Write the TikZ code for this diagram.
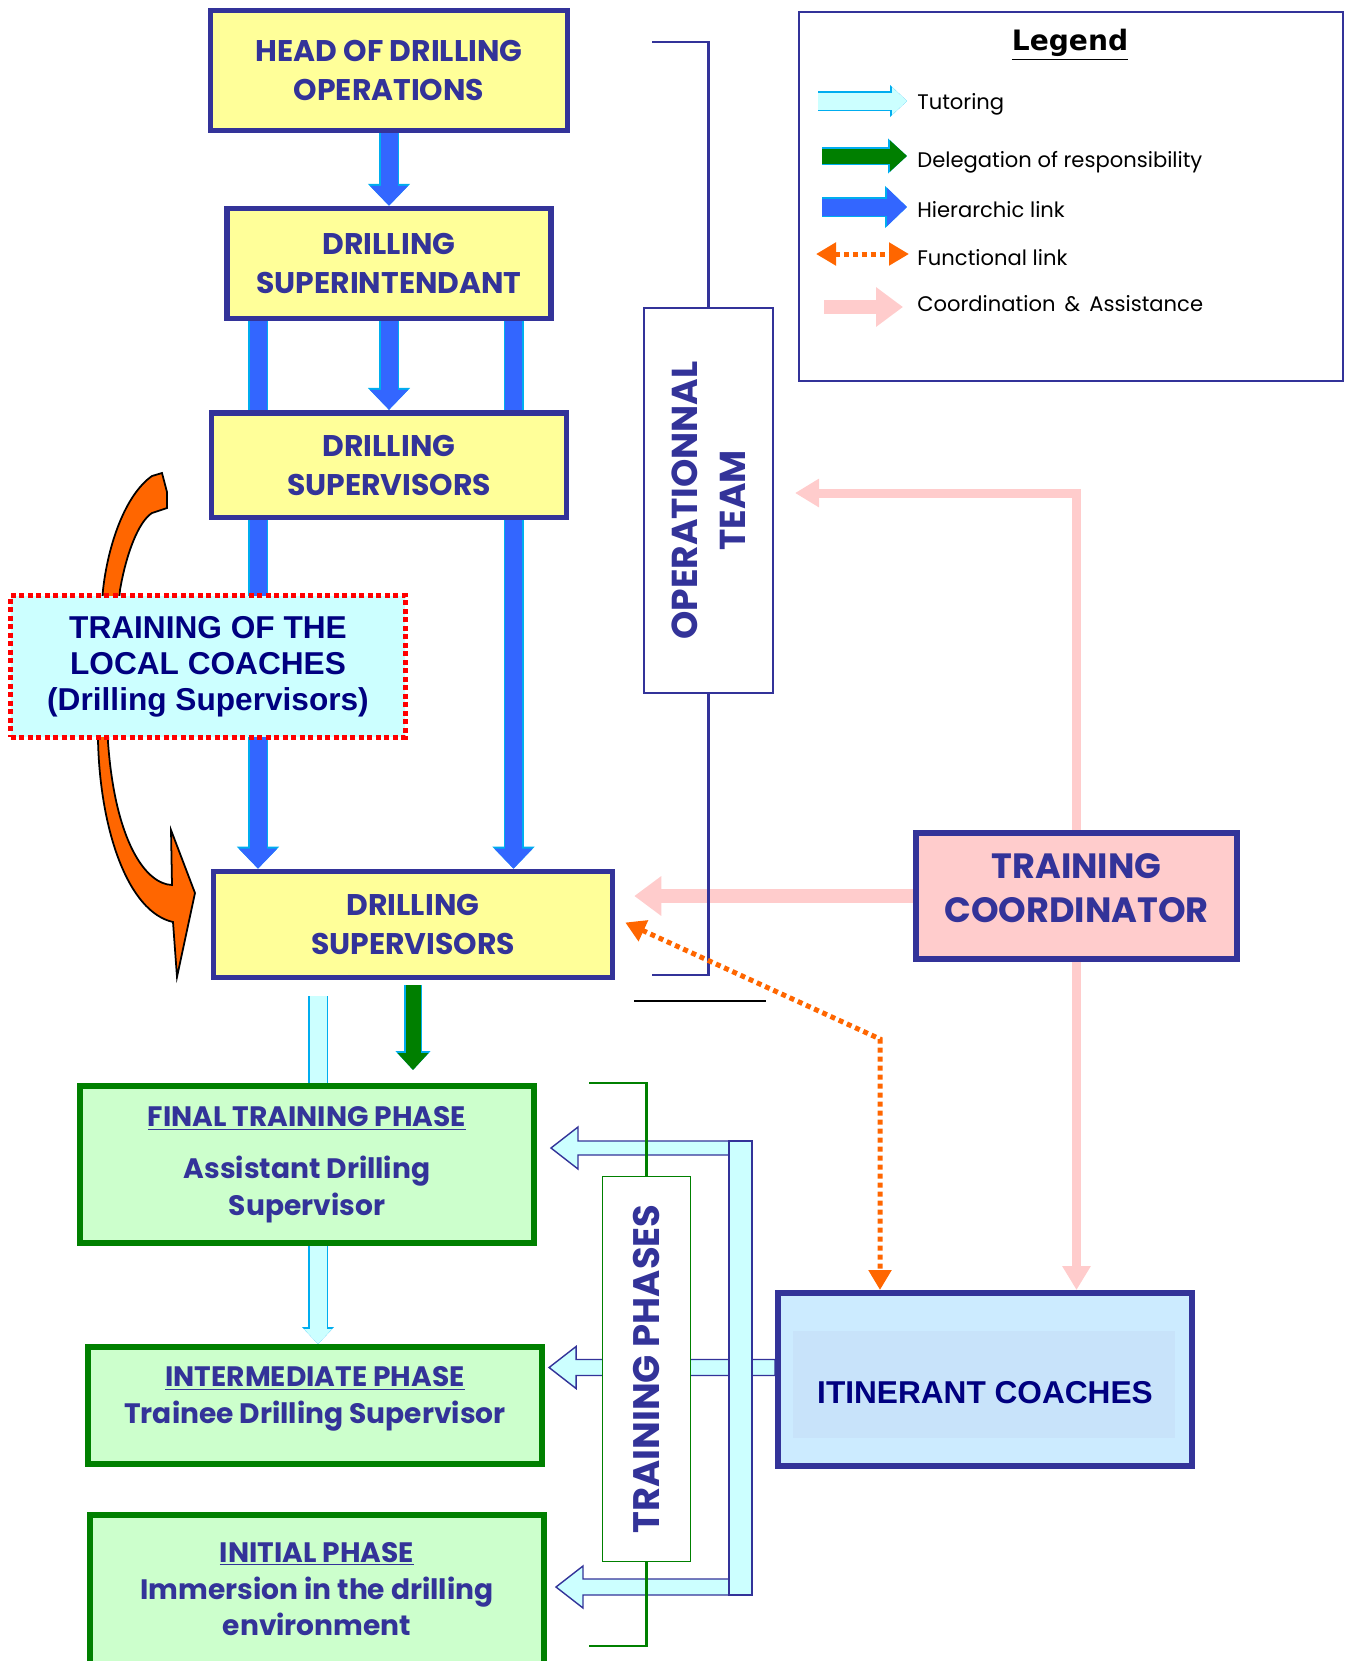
\documentclass[tikz,border=0pt]{standalone}
\usepackage{fontspec}
\setmainfont{Poppins}
\newfontfamily\arialfont{Liberation Sans}
\newfontfamily\verdfont{DejaVu Sans}
\usetikzlibrary{arrows.meta, backgrounds, calc, positioning}

\definecolor{boxblue}{HTML}{333399}
\definecolor{navy}{HTML}{000080}
\definecolor{boxyellow}{HTML}{FFFF99}
\definecolor{hierblue}{HTML}{3366FF}
\definecolor{delegreen}{HTML}{007F00}
\definecolor{tutorfill}{HTML}{CCFFFF}
\definecolor{coordpink}{HTML}{FFCCCC}
\definecolor{funcorange}{HTML}{FF6600}
\definecolor{phasegreen}{HTML}{CCFFCC}
\definecolor{phaseline}{HTML}{008000}
\definecolor{itinfill}{HTML}{CCEBFF}
\definecolor{itininner}{HTML}{C8E3FA}

\tikzset{
  ybox/.style={draw=boxblue, fill=boxyellow, line width=3.2pt, text=boxblue, align=center, font=\fontsize{17}{22}\selectfont\bfseries},
  gbox/.style={draw=phaseline, fill=phasegreen, line width=3.4pt, text=boxblue, align=center, minimum width=9.08cm, font=\fontsize{16}{21}\selectfont\bfseries},
  thinbox/.style={draw=#1, fill=white, line width=1pt},
  rottext/.style={rotate=90, text=boxblue, align=center, font=\fontsize{20.5}{27}\selectfont\bfseries},
  legtext/.style={anchor=west, inner sep=0pt, font=\fontsize{12}{14}\selectfont},
  % block arrows of the chart
  hier/.style={draw=hierblue, line width=0.34cm, -{Triangle[width=0.74cm,length=0.4cm]},
    preaction={draw=cyan, line width=0.4cm, -{Triangle[width=0.82cm,length=0.44cm]}}},
  deleg/.style={draw=delegreen, line width=0.3cm, -{Triangle[width=0.6cm,length=0.34cm]},
    preaction={draw=cyan, line width=0.36cm, -{Triangle[width=0.68cm,length=0.38cm]}}},
  tutor/.style={draw=tutorfill, line width=0.34cm, -{Triangle[width=0.54cm,length=0.3cm]},
    preaction={draw=cyan, line width=0.4cm, -{Triangle[width=0.62cm,length=0.34cm]}}},
  tutorshaft/.style={draw=tutorfill, line width=0.34cm, preaction={draw=cyan, line width=0.4cm}},
  coordthin/.style={draw=coordpink, line width=0.18cm, -{Triangle[width=0.54cm,length=0.48cm]}},
  coordwide/.style={draw=coordpink, line width=0.28cm, -{Triangle[width=0.76cm,length=0.54cm]}},
  func/.style={draw=funcorange, line width=0.1cm, dash pattern=on 0.1cm off 0.08cm,
    {Triangle[width=0.44cm,length=0.4cm]}-{Triangle[width=0.44cm,length=0.4cm]}},
  block/.style={fill=tutorfill, draw=boxblue, line width=0.8pt},
  optline/.style={draw=boxblue, line width=1.6pt},
  phline/.style={draw=phaseline, line width=1.6pt},
  curvearrow/.style={fill=funcorange, draw=black, line width=1pt},
}

\begin{document}
\begin{tikzpicture}[x=0.02cm, y=-0.02cm]
\useasboundingbox (0,0) rectangle (1350,1661);

% hierarchy
\node[ybox, minimum width=7.14cm, minimum height=2.4cm] (head) at (389,70.5) {HEAD OF DRILLING\\OPERATIONS};
\node[ybox, minimum width=6.48cm, minimum height=2.2cm, below=1.45cm of head] (super) {DRILLING\\SUPERINTENDANT};
\node[ybox, minimum width=7.1cm, minimum height=2.1cm, below=1.77cm of super] (sup1) {DRILLING\\SUPERVISORS};
\node[ybox, minimum width=7.98cm, minimum height=2.12cm] (sup2) at (413,924.5) {DRILLING\\SUPERVISORS};

\node[draw=red, fill=tutorfill, line width=0.1cm, dash pattern=on 0.1cm off 0.07cm,
  minimum width=7.9cm, minimum height=2.84cm, align=center, text=navy,
  font=\arialfont\fontsize{18}{20.5}\selectfont\bfseries] (coaches) at (208,666.5)
  {TRAINING OF THE\\LOCAL COACHES\\(Drilling Supervisors)};

\node[thinbox=boxblue, minimum width=2.58cm, minimum height=7.7cm] (optteam) at (708.5,500.5) {};
\node[rottext] (optlabel) at (optteam.center) {OPERATIONNAL\\TEAM};

% legend
\node[draw=boxblue, line width=1.2pt, minimum width=10.88cm, minimum height=7.38cm] (legend) at (1071,196.5) {};
\node[font=\verdfont\fontsize{16}{18}\selectfont\bfseries] (legtitle) at (1070,45) {\underline{Legend}};
\node[legtext] (ltut) at (917,104) {Tutoring};
\node[legtext] (ldel) at (917,162) {Delegation of responsibility};
\node[legtext] (lhier) at (917,210) {Hierarchic link};
\node[legtext] (lfunc) at (917,258) {Functional link};
\node[legtext] (lcoord) at (917,304) {Coordination \,\&\, Assistance};

\node[draw=boxblue, fill=coordpink, line width=3.4pt, minimum width=6.42cm, minimum height=2.52cm,
  align=center, text=boxblue, text depth=0.32cm, font=\fontsize{20}{25}\selectfont\bfseries] (coord) at (1076.5,896) {TRAINING\\COORDINATOR};

\node[draw=boxblue, fill=itinfill, line width=3.4pt, minimum width=8.28cm, minimum height=3.46cm,
  text=navy, text height=0.94cm, text depth=0cm, font=\arialfont\fontsize{18}{20}\selectfont\bfseries,
  path picture={\fill[itininner] ([shift={(0.3cm,-0.76cm)}]path picture bounding box.north west)
    rectangle ([shift={(-0.34cm,0.56cm)}]path picture bounding box.south east);}] (itin) at (985,1379.5)
  {ITINERANT COACHES};

% training phases
\node[gbox, minimum height=3.14cm] (final) at (307,1164.5)
  {\underline{FINAL TRAINING PHASE}\\[0.3cm]Assistant Drilling\\Supervisor};
\node[gbox, minimum height=2.34cm, text depth=0.42cm] (inter) at (315,1405.5)
  {\underline{INTERMEDIATE PHASE}\\Trainee Drilling Supervisor};
\node[gbox, minimum height=3.3cm, text depth=0.34cm] (initial) at (317,1597.5)
  {\underline{INITIAL PHASE}\\Immersion in the drilling\\environment};

\node[thinbox=phaseline, minimum width=1.76cm, minimum height=7.7cm] (phases) at (646.5,1369) {};
\node[rottext, font=\fontsize{21}{26}\selectfont\bfseries] (phlabel) at (phases.center) {TRAINING PHASES};

\begin{scope}[on background layer]
  % tutoring
  \coordinate (tu) at (318,0);
  \draw[tutorshaft] (tu |- sup2.south) ++(0,16) -- (tu |- final.north);
  \draw[tutor] (tu |- final.south) -- (tu |- inter.north);

  % hierarchic links
  \draw[hier] (head.south) -- (super.north);
  \draw[hier] (super.south) -- (sup1.north);
  \coordinate (hl) at ($(super.south)+(-131,0)$);
  \coordinate (hr) at ($(super.south)+(124.5,0)$);
  \draw[hier] (hl) -- (hl |- sup2.north);
  \draw[hier] (hr) -- (hr |- sup2.north);

  % delegation
  \draw[deleg, shorten <=0.1cm, shorten >=0.26cm] (sup2.south) -- (sup2.south |- final.north);

  % training of the local coaches
  \filldraw[curvearrow] (162,473) -- (152,476) .. controls (125,495) and (108,545) .. (103,590)
    -- (96,680) -- (98,740) .. controls (100,830) and (128,912) .. (173,922)
    -- (177,977) -- (195,893) -- (171,830) -- (172,885)
    .. controls (145,884) and (115,840) .. (108,742) -- (112,680) -- (120,590)
    .. controls (126,555) and (138,522) .. (152,513) -- (167,508) -- (167,492) -- cycle;

  % coordination & assistance
  \coordinate (cpt) at (795,493);
  \draw[coordthin] (coord.north) |- (cpt);
  \draw[coordwide, shorten >=0.38cm] (coord.west) -- (coord.west -| sup2.east);
  \draw[coordthin] (coord.south) -- (coord.south |- itin.north);

  % operational team bracket
  \coordinate (otop) at (652,42);
  \coordinate (obot) at (652,975);
  \draw[optline] (otop) -| (optteam.north);
  \draw[optline] (optteam.south) |- (obot);
  \coordinate (bl) at (634,1001);
  \coordinate (br) at (766,1001);
  \draw[black, line width=1pt] (bl) -- (br);

  % functional link
  \coordinate (fc) at (880,1039);
  \draw[func] ($(sup2.east)+(10,-2)$) -- (fc) -- (fc |- itin.north);

  % itinerant coaches to the phases
  \coordinate (pa) at (729,1148);
  \coordinate (pb) at (729,1587);
  \filldraw[block] ($(itin.west)+(0,-12)$) ++(0,-8) -- ++(-199,0) -- ++(0,-13) -- ++(-27,21)
    -- ++(27,21) -- ++(0,-13) -- ++(199,0) -- cycle;
  \filldraw[block] (pa) ++(0,-7) -- ++(-151,0) -- ++(0,-14) -- ++(-27,21)
    -- ++(27,21) -- ++(0,-14) -- ++(151,0) -- cycle;
  \filldraw[block] (pb) ++(0,-8) -- ++(-146,0) -- ++(0,-13) -- ++(-27,21)
    -- ++(27,21) -- ++(0,-13) -- ++(146,0) -- cycle;
  \filldraw[block] (729,1141) rectangle (752,1595);

  % training phases bracket
  \coordinate (ptop) at (589,1083);
  \coordinate (pbot) at (589,1646);
  \draw[phline] (ptop) -| (phases.north);
  \draw[phline] (phases.south) |- (pbot);
\end{scope}

% legend symbols
\draw[tutor] ($(ltut.west)+(-99,-3)$) -- ($(ltut.west)+(-10,-3)$);
\draw[deleg] ($(ldel.west)+(-95,-6)$) -- ($(ldel.west)+(-10,-6)$);
\draw[hier] ($(lhier.west)+(-95,-3)$) -- ($(lhier.west)+(-10,-3)$);
\draw[func] ($(lfunc.west)+(-101,-4)$) -- ($(lfunc.west)+(-8,-4)$);
\draw[coordwide] ($(lcoord.west)+(-93,3)$) -- ($(lcoord.west)+(-14,3)$);
\end{tikzpicture}
\end{document}
